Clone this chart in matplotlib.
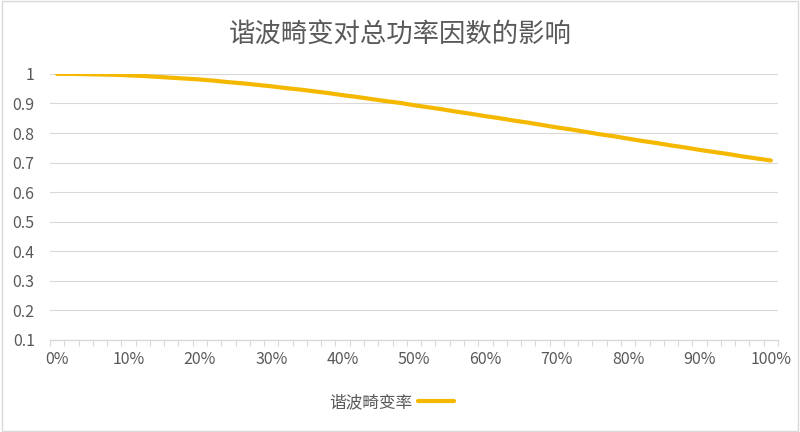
import matplotlib.pyplot as plt
from matplotlib.patches import Rectangle

plt.rcParams['font.family'] = ['Noto Sans CJK SC', 'DejaVu Sans']

# 谐波畸变率 (%) at 2% steps, total power factor
thd = list(range(0, 101, 2))
pf = [1.000, 1.000, 0.999, 0.998, 0.997, 0.995, 0.993, 0.990, 0.987, 0.984,
      0.981, 0.977, 0.972, 0.968, 0.963, 0.958, 0.952, 0.947, 0.941, 0.935,
      0.928, 0.922, 0.915, 0.908, 0.902, 0.894, 0.887, 0.880, 0.872, 0.865,
      0.857, 0.850, 0.842, 0.835, 0.827, 0.819, 0.812, 0.804, 0.796, 0.789,
      0.781, 0.773, 0.766, 0.758, 0.751, 0.743, 0.736, 0.729, 0.721, 0.714,
      0.707]
y_ticks = [0.1, 0.2, 0.3, 0.4, 0.5, 0.6, 0.7, 0.8, 0.9, 1.0]
y_labels = ["0.1", "0.2", "0.3", "0.4", "0.5", "0.6", "0.7", "0.8", "0.9", "1"]
x_ticks = [0, 10, 20, 30, 40, 50, 60, 70, 80, 90, 100]
x_labels = [f"{v}%" for v in x_ticks]

grey = "#595959"
light = "#D9D9D9"

fig = plt.figure(figsize=(8, 4.32), dpi=100)
ax = fig.add_axes([0.0625, 0.213, 0.91, 0.616])

ax.plot(thd, pf, color="#F5B800", lw=3.0, solid_capstyle="round", label="谐波畸变率")

ax.set_xlim(-1, 101)
ax.set_ylim(0.1, 1.0)
ax.set_yticks(y_ticks)
ax.set_yticklabels(y_labels)
ax.set_xticks(x_ticks)
ax.set_xticklabels(x_labels)
ax.set_xticks(list(range(-1, 102, 2)), minor=True)

ax.grid(axis="y", color=light, lw=0.8)
ax.set_axisbelow(True)
for s in ["top", "right", "left"]:
    ax.spines[s].set_visible(False)
ax.spines["bottom"].set_color(light)
ax.spines["bottom"].set_linewidth(1.0)

ax.tick_params(axis="y", length=0, colors=grey, labelsize=11.5, pad=11)
ax.tick_params(axis="x", which="major", length=0, colors=grey, labelsize=11.5, pad=8)
ax.tick_params(axis="x", which="minor", length=4, color=light, width=0.8)

fig.text(0.5, 0.919, "谐波畸变对总功率因数的影响", ha="center", va="center",
         fontsize=19, color=grey)

ax.legend(loc="center", bbox_to_anchor=(0.49, 0.068), bbox_transform=fig.transFigure,
          frameon=False, markerfirst=False, fontsize=12, labelcolor=grey,
          handlelength=2.2, handletextpad=0.3)

fig.patches.append(Rectangle((0.002, 0.003), 0.996, 0.994, transform=fig.transFigure,
                             fill=False, edgecolor=light, lw=1.0))

fig.savefig("out.png", dpi=100)
